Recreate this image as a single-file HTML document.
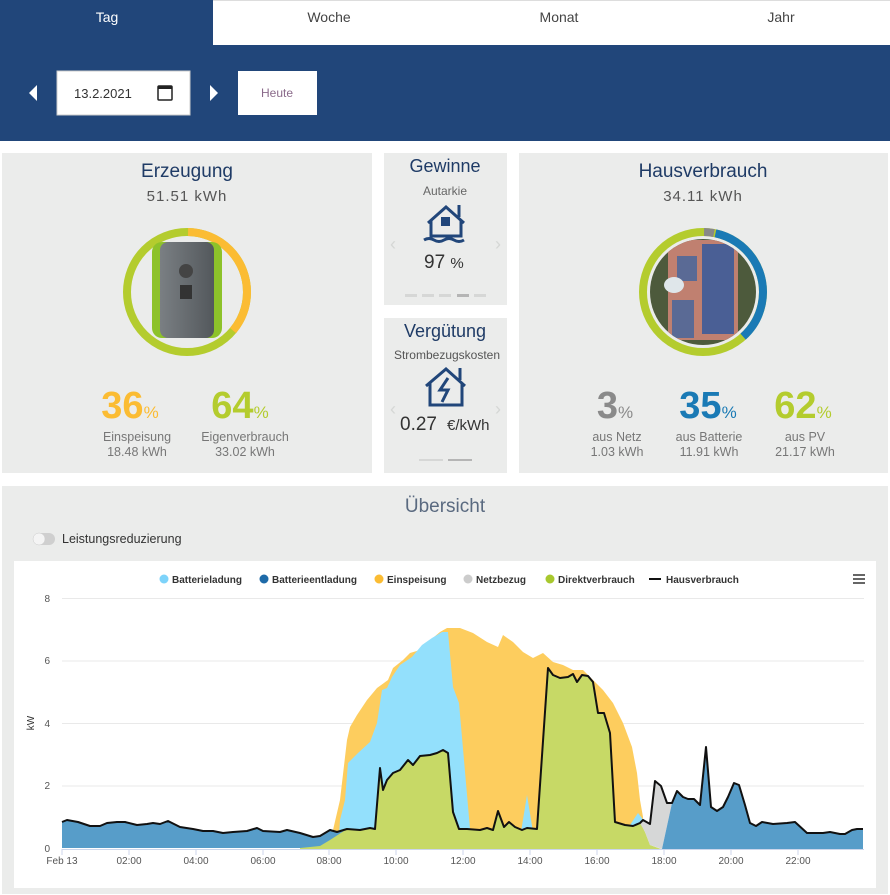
<!DOCTYPE html>
<html><head><meta charset="utf-8"><style>
html,body{margin:0;padding:0;background:#fff;width:890px;height:895px;overflow:hidden}
svg{display:block;font-family:"Liberation Sans",Arial,sans-serif}
</style></head><body>
<svg width="890" height="895" viewBox="0 0 890 895" xmlns="http://www.w3.org/2000/svg">
<defs>
<clipPath id="hc"><circle cx="703" cy="292" r="53"/></clipPath>
<linearGradient id="ig" x1="0" x2="1"><stop offset="0" stop-color="#7a7f83"/><stop offset="1" stop-color="#53585c"/></linearGradient>
</defs>
<!-- header -->
<rect x="0" y="0" width="890" height="141" fill="#21467a"/>
<rect x="213" y="1" width="677" height="44" fill="#fff"/>
<rect x="213" y="0" width="677" height="1" fill="#ddd"/>
<text x="107" y="22" font-size="14" fill="#fff" text-anchor="middle">Tag</text>
<text x="329" y="22" font-size="14" fill="#444" text-anchor="middle">Woche</text>
<text x="559" y="22" font-size="14" fill="#444" text-anchor="middle">Monat</text>
<text x="781" y="22" font-size="14" fill="#444" text-anchor="middle">Jahr</text>
<polygon points="37,85 37,101 29,93" fill="#fff"/>
<polygon points="210,85 210,101 218,93" fill="#fff"/>
<rect x="57" y="71" width="133" height="44" fill="#fff" stroke="#ccc"/>
<text x="74" y="98" font-size="13" fill="#333">13.2.2021</text>
<rect x="158" y="86" width="14" height="14" fill="none" stroke="#222" stroke-width="1.5" rx="1"/>
<rect x="158" y="86" width="14" height="3" fill="#222"/>
<rect x="238" y="71" width="79" height="44" fill="#fff"/>
<text x="277" y="97" font-size="12" fill="#8a6a8a" text-anchor="middle">Heute</text>

<!-- panels -->
<rect x="2" y="153" width="370" height="320" fill="#ebeceb"/>
<rect x="384" y="153" width="123" height="152" fill="#ebeceb"/>
<rect x="384" y="318" width="123" height="155" fill="#ebeceb"/>
<rect x="519" y="153" width="369" height="320" fill="#ebeceb"/>
<rect x="2" y="486" width="886" height="408" fill="#ebeceb"/>

<!-- Erzeugung -->
<text x="187" y="177" font-size="19" fill="#1f3b66" text-anchor="middle">Erzeugung</text>
<text x="187" y="201" font-size="15" fill="#555" text-anchor="middle" letter-spacing="1">51.51 kWh</text>
<circle cx="187" cy="292" r="60" fill="none" stroke="#b4cc2e" stroke-width="8"/>
<circle cx="187" cy="292" r="60" fill="none" stroke="#fbbc33" stroke-width="8" stroke-dasharray="135 400" transform="rotate(-89 187 292)"/>
<rect x="152" y="242" width="70" height="96" rx="10" fill="#8dc22a"/>
<rect x="160" y="242" width="54" height="96" rx="8" fill="url(#ig)"/>
<circle cx="186" cy="271" r="7" fill="#444"/>
<rect x="180" y="285" width="12" height="14" fill="#333"/>
<text x="130" y="418" font-size="38" font-weight="bold" fill="#fbbc33" text-anchor="middle">36<tspan font-size="17" font-weight="normal">%</tspan></text>
<text x="137" y="441" font-size="12.5" fill="#777" text-anchor="middle">Einspeisung</text>
<text x="137" y="456" font-size="12.5" fill="#777" text-anchor="middle">18.48 kWh</text>
<text x="240" y="418" font-size="38" font-weight="bold" fill="#b4cc2e" text-anchor="middle">64<tspan font-size="17" font-weight="normal">%</tspan></text>
<text x="245" y="441" font-size="12.5" fill="#777" text-anchor="middle">Eigenverbrauch</text>
<text x="245" y="456" font-size="12.5" fill="#777" text-anchor="middle">33.02 kWh</text>

<!-- Gewinne -->
<text x="445" y="172" font-size="18" fill="#1f3b66" text-anchor="middle">Gewinne</text>
<text x="445" y="195" font-size="12" fill="#666" text-anchor="middle">Autarkie</text>
<g fill="none" stroke="#21467a" stroke-width="3">
<polyline points="428,223 446,207 464,223"/><polyline points="431,220 431,236 461,236 461,220"/><line x1="459" y1="205" x2="459" y2="217"/>
<path d="M424,240 q5,-3 10,0 t10,0 t10,0 t10,0" />
</g>
<rect x="441" y="217" width="9" height="9" fill="#21467a"/>
<text x="424" y="268" font-size="19" fill="#333">97 <tspan font-size="15">%</tspan></text>
<text x="393" y="250" font-size="18" fill="#d5d7d5" text-anchor="middle">‹</text>
<text x="498" y="250" font-size="18" fill="#d5d7d5" text-anchor="middle">›</text>
<g fill="#d6d7d6"><rect x="405" y="294" width="12" height="3"/><rect x="422" y="294" width="12" height="3"/><rect x="439" y="294" width="12" height="3"/><rect x="457" y="294" width="12" height="3" fill="#b5b5b5"/><rect x="474" y="294" width="12" height="3"/></g>

<!-- Vergütung -->
<text x="445" y="337" font-size="18" fill="#1f3b66" text-anchor="middle">Vergütung</text>
<text x="447" y="359" font-size="12" fill="#555" text-anchor="middle">Strombezugskosten</text>
<g fill="none" stroke="#21467a" stroke-width="3">
<polyline points="426,386 446,369 465,386"/><polyline points="430,383 430,405 462,405 462,383"/><line x1="460" y1="368" x2="460" y2="380"/>
<path d="M448,378 l-8,12 h8 l-6,12"/>
</g>
<text x="400" y="430" font-size="19" fill="#333">0.27</text>
<text x="447" y="430" font-size="15" fill="#333">€/kWh</text>
<text x="393" y="415" font-size="18" fill="#d5d7d5" text-anchor="middle">‹</text>
<text x="498" y="415" font-size="18" fill="#d5d7d5" text-anchor="middle">›</text>
<rect x="419" y="459" width="24" height="2" fill="#d6d7d6"/><rect x="448" y="459" width="24" height="2" fill="#b5b5b5"/>

<!-- Hausverbrauch -->
<text x="703" y="177" font-size="19" fill="#1f3b66" text-anchor="middle">Hausverbrauch</text>
<text x="703" y="201" font-size="15" fill="#555" text-anchor="middle" letter-spacing="1">34.11 kWh</text>
<circle cx="703" cy="292" r="60" fill="none" stroke="#b4cc2e" stroke-width="8"/>
<circle cx="703" cy="292" r="60" fill="none" stroke="#1a7ab5" stroke-width="8" stroke-dasharray="132 400" transform="rotate(-78 703 292)"/>
<circle cx="703" cy="292" r="60" fill="none" stroke="#888" stroke-width="8" stroke-dasharray="10 400" transform="rotate(-89 703 292)"/>
<g clip-path="url(#hc)">
<rect x="650" y="239" width="106" height="106" fill="#4d5a3c"/>
<rect x="668" y="240" width="70" height="100" fill="#c08070"/>
<rect x="702" y="244" width="32" height="90" fill="#4a5f95"/>
<rect x="672" y="300" width="22" height="38" fill="#5a6a95"/>
<rect x="677" y="256" width="20" height="25" fill="#5a6a95"/>
<ellipse cx="674" cy="285" rx="10" ry="8" fill="#dfe6ea"/>
</g>
<text x="615" y="418" font-size="38" font-weight="bold" fill="#8a8a8a" text-anchor="middle">3<tspan font-size="17" font-weight="normal">%</tspan></text>
<text x="617" y="441" font-size="12.5" fill="#777" text-anchor="middle">aus Netz</text>
<text x="617" y="456" font-size="12.5" fill="#777" text-anchor="middle">1.03 kWh</text>
<text x="708" y="418" font-size="38" font-weight="bold" fill="#1a7ab5" text-anchor="middle">35<tspan font-size="17" font-weight="normal">%</tspan></text>
<text x="709" y="441" font-size="12.5" fill="#777" text-anchor="middle">aus Batterie</text>
<text x="709" y="456" font-size="12.5" fill="#777" text-anchor="middle">11.91 kWh</text>
<text x="803" y="418" font-size="38" font-weight="bold" fill="#b4cc2e" text-anchor="middle">62<tspan font-size="17" font-weight="normal">%</tspan></text>
<text x="805" y="441" font-size="12.5" fill="#777" text-anchor="middle">aus PV</text>
<text x="805" y="456" font-size="12.5" fill="#777" text-anchor="middle">21.17 kWh</text>

<!-- Übersicht -->
<text x="445" y="512" font-size="19" fill="#5a6a80" text-anchor="middle">Übersicht</text>
<rect x="33" y="533" width="22" height="12" rx="6" fill="#cfcfcf"/>
<circle cx="39" cy="539" r="6" fill="#f4f4f4" stroke="#ccc" stroke-width="0.5"/>
<text x="62" y="543" font-size="12.5" fill="#333">Leistungsreduzierung</text>
<rect x="14" y="561" width="862" height="327" fill="#fff"/>
<!-- legend -->
<g font-size="10" font-weight="bold" fill="#333">
<circle cx="164" cy="579" r="4.5" fill="#7dd3fa"/><text x="172" y="583">Batterieladung</text>
<circle cx="264" cy="579" r="4.5" fill="#1e6aa8"/><text x="272" y="583">Batterieentladung</text>
<circle cx="379" cy="579" r="4.5" fill="#fbbc33"/><text x="387" y="583">Einspeisung</text>
<circle cx="468" cy="579" r="4.5" fill="#cccccc"/><text x="476" y="583">Netzbezug</text>
<circle cx="550" cy="579" r="4.5" fill="#a8c82e"/><text x="558" y="583">Direktverbrauch</text>
<rect x="649" y="578" width="12" height="2" fill="#111"/><text x="666" y="583">Hausverbrauch</text>
</g>
<g fill="#666"><rect x="853" y="574" width="12" height="2"/><rect x="853" y="578" width="12" height="2"/><rect x="853" y="582" width="12" height="2"/></g>
<!-- grid -->
<g stroke="#e9e9e9" stroke-width="1">
<line x1="62" y1="598.5" x2="864" y2="598.5"/><line x1="62" y1="661" x2="864" y2="661"/><line x1="62" y1="723.5" x2="864" y2="723.5"/><line x1="62" y1="786" x2="864" y2="786"/>
</g>
<g font-size="10" fill="#555" text-anchor="end">
<text x="50" y="602">8</text><text x="50" y="664">6</text><text x="50" y="727">4</text><text x="50" y="789">2</text><text x="50" y="852">0</text>
</g>
<text x="34" y="723" font-size="10" fill="#333" text-anchor="middle" transform="rotate(-90 34 723)">kW</text>
<!-- series -->
<polygon fill="#fdcd5e" points="330,848 333,830 340,800 347,740 350,727 357,715 367,700 377,688 388,680 393,668 403,660 410,653 420,650 428,642 440,632 447,628 460,628 473,633 487,642 498,647 503,635 513,642 523,652 533,658 543,653 553,662 563,665 573,670 583,670 593,680 603,690 613,703 623,723 632,747 637,773 640,800 643,817 645,848"/>
<polygon fill="#93e0fc" points="338,848 340,820 345,800 348,763 358,753 370,742 377,723 382,690 387,688 392,677 400,665 412,657 422,645 432,638 442,632 448,632 453,687 459,703 470,829 470,848"/>
<polygon fill="#93e0fc" points="521,832 527,795 533,832"/>
<polygon fill="#93e0fc" points="628,828 638,813 645,822 640,830"/>
<polygon fill="#579dc9" points="62,848 62,822 67,820 78,822 90,826 100,826 107,823 117,822 125,822 137,825 147,824 153,823 160,824 168,821 180,827 193,829 203,831 213,831 223,833 233,832 247,831 257,828 263,831 280,832 287,830 300,833 313,837 320,836 330,830 337,832 347,829 347,848"/>
<polygon fill="#c7d966" points="300,848 320,846 330,840 347,829 360,830 370,828 375,829 380,768 383,790 387,780 393,773 400,770 408,760 413,765 420,756 430,755 437,753 443,750 448,753 453,812 459,829 467,829 480,830 487,828 493,830 498,811 504,827 509,822 515,827 522,830 527,828 537,829 548,668 553,675 560,678 568,677 573,674 577,682 582,675 588,676 593,682 598,713 604,713 610,733 615,822 625,825 633,826 640,823 645,832 650,845 661,849 300,849"/>
<polygon fill="#d6d7d7" points="640,823 643,820 650,824 655,781 661,786 667,803 672,803 662,849 650,845 645,832"/>
<polygon fill="#579dc9" points="662,849 672,803 677,791 683,797 688,799 694,799 700,805 706,747 711,807 717,811 723,807 728,797 734,783 739,785 745,805 750,823 756,826 762,822 773,824 787,823 795,822 807,833 823,833 830,832 840,834 845,834 852,830 857,829 863,829 863,849"/>
<polyline fill="none" stroke="#111" stroke-width="2" stroke-linejoin="round" points="62,822 67,820 78,822 90,826 100,826 107,823 117,822 125,822 137,825 147,824 153,823 160,824 168,821 180,827 193,829 203,831 213,831 223,833 233,832 247,831 257,828 263,831 280,832 287,830 300,833 313,837 320,836 330,830 337,832 347,829 360,830 370,828 375,829 380,768 383,790 387,780 393,773 400,770 408,760 413,765 420,756 430,755 437,753 443,750 448,753 453,812 459,829 467,829 480,830 487,828 493,830 498,811 504,827 509,822 515,827 522,830 527,828 537,829 548,668 553,675 560,678 568,677 573,674 577,682 582,675 588,676 593,682 598,713 604,713 610,733 615,822 625,825 633,826 640,823 643,820 650,824 655,781 661,786 667,803 672,803 677,791 683,797 688,799 694,799 700,805 706,747 711,807 717,811 723,807 728,797 734,783 739,785 745,805 750,823 756,826 762,822 773,824 787,823 795,822 807,833 823,833 830,832 840,834 845,834 852,830 857,829 863,829"/>
<line x1="62" y1="849.5" x2="864" y2="849.5" stroke="#ccd6eb" stroke-width="1"/>
<g stroke="#ccd6eb"><line x1="62" y1="849" x2="62" y2="855"/><line x1="129" y1="849" x2="129" y2="855"/><line x1="196" y1="849" x2="196" y2="855"/><line x1="263" y1="849" x2="263" y2="855"/><line x1="329" y1="849" x2="329" y2="855"/><line x1="396" y1="849" x2="396" y2="855"/><line x1="463" y1="849" x2="463" y2="855"/><line x1="530" y1="849" x2="530" y2="855"/><line x1="597" y1="849" x2="597" y2="855"/><line x1="664" y1="849" x2="664" y2="855"/><line x1="731" y1="849" x2="731" y2="855"/><line x1="798" y1="849" x2="798" y2="855"/></g>
<g font-size="10" fill="#555" text-anchor="middle">
<text x="62" y="864">Feb 13</text><text x="129" y="864">02:00</text><text x="196" y="864">04:00</text><text x="263" y="864">06:00</text><text x="329" y="864">08:00</text><text x="396" y="864">10:00</text><text x="463" y="864">12:00</text><text x="530" y="864">14:00</text><text x="597" y="864">16:00</text><text x="664" y="864">18:00</text><text x="731" y="864">20:00</text><text x="798" y="864">22:00</text>
</g>
</svg>
</body></html>
